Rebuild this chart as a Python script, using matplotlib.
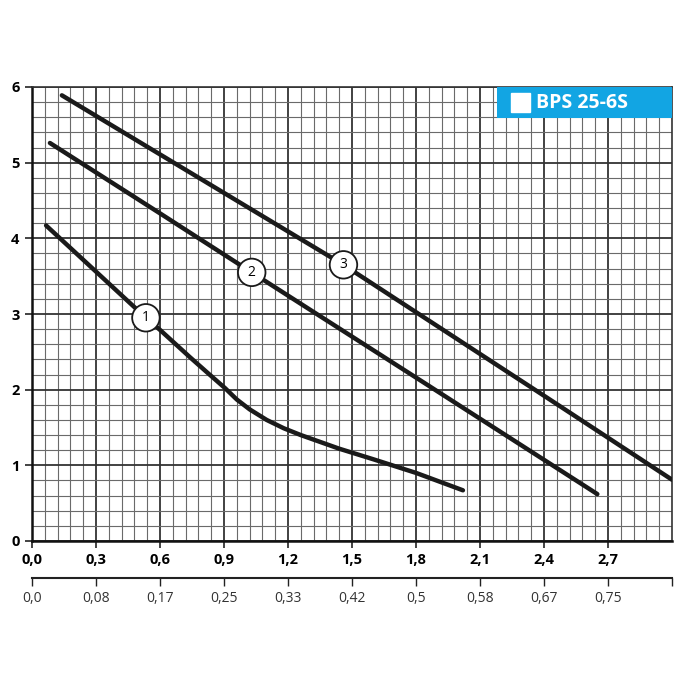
import numpy as np
import matplotlib.pyplot as plt
from matplotlib.ticker import MultipleLocator

plt.rcParams['font.family'] = ['Open Sans', 'DejaVu Sans']

# Pump curves: flow Q (m3/h) vs head H (m)
q1 = [0.066, 0.3, 0.534, 0.6, 0.74, 0.82, 0.905, 0.96, 1.02, 1.10, 1.18, 1.26,
      1.34, 1.44, 1.6, 1.8, 2.02]
h1 = [4.17, 3.56, 2.95, 2.79, 2.43, 2.23, 2.02, 1.87, 1.74, 1.60, 1.49, 1.40,
      1.32, 1.22, 1.08, 0.90, 0.67]
q2 = [0.084, 0.6, 1.03, 1.8, 2.65]
h2 = [5.26, 4.33, 3.55, 2.16, 0.62]
q3 = [0.14, 0.9, 1.46, 2.4, 3.0]
h3 = [5.89, 4.60, 3.65, 1.92, 0.81]

# label circle positions
labels = ['1', '2', '3']
label_q = [0.534, 1.03, 1.46]
label_h = [2.95, 3.55, 3.65]

xticks = [0.0, 0.3, 0.6, 0.9, 1.2, 1.5, 1.8, 2.1, 2.4, 2.7]
xtick_labels = ['0,0', '0,3', '0,6', '0,9', '1,2', '1,5', '1,8', '2,1', '2,4', '2,7']
sec_ticks = [0.0, 0.3, 0.6, 0.9, 1.2, 1.5, 1.8, 2.1, 2.4, 2.7, 3.0]
sec_labels = ['0,0', '0,08', '0,17', '0,25', '0,33', '0,42', '0,5', '0,58', '0,67', '0,75', '']
yticks = [0, 1, 2, 3, 4, 5, 6]

fig = plt.figure(figsize=(7, 7), dpi=100)
ax = fig.add_axes([32/700, 159/700, 640/700, 454/700])
ax.set_xlim(0, 3.0)
ax.set_ylim(0, 6)

# grid
ax.xaxis.set_minor_locator(MultipleLocator(0.06))
ax.yaxis.set_minor_locator(MultipleLocator(0.2))
ax.grid(which='minor', color='#6a6a6a', lw=0.8)
ax.grid(which='major', color='#333333', lw=1.3)
ax.set_axisbelow(True)
ax.tick_params(which='minor', length=0)

ax.set_xticks(xticks)
ax.set_xticklabels(xtick_labels, fontweight='bold', fontsize=10.5)
ax.set_yticks(yticks)
ax.set_yticklabels([str(v) for v in yticks], fontweight='bold', fontsize=10.5)
ax.tick_params(which='major', length=5, width=1.2, color='#222222', pad=4)

for s in ax.spines.values():
    s.set_color('#333333')
    s.set_linewidth(1.2)
ax.spines['left'].set_color('#111111')
ax.spines['left'].set_linewidth(1.8)
ax.spines['bottom'].set_color('#111111')
ax.spines['bottom'].set_linewidth(1.8)

# curves
for q, h in [(q1, h1), (q2, h2), (q3, h3)]:
    ax.plot(q, h, color='#1a1a1a', lw=3.2, solid_capstyle='round',
            solid_joinstyle='round', zorder=3)

for lab, q, h in zip(labels, label_q, label_h):
    ax.text(q, h, lab, ha='center', va='center', fontsize=10, zorder=5,
            bbox=dict(boxstyle='circle,pad=0.45', fc='white', ec='#1a1a1a', lw=1.3))

# secondary flow axis (l/s)
sec = ax.secondary_xaxis(-0.0815)
sec.set_xticks(sec_ticks)
sec.set_xticklabels(sec_labels, fontsize=10, color='#333333')
sec.tick_params(length=6, width=1.0, color='#222222', pad=3)
sec.spines['bottom'].set_linewidth(1.5)
sec.spines['bottom'].set_color('#222222')

# model badge
badge = fig.add_axes([497/700, (700-118)/700, 175/700, 31/700])
badge.set_facecolor('#12a5e3')
badge.set_xticks([])
badge.set_yticks([])
for s in badge.spines.values():
    s.set_visible(False)
badge.add_patch(plt.Rectangle((0.08, 0.18), 0.11, 0.64, transform=badge.transAxes,
                              color='white'))
badge.text(0.22, 0.47, 'BPS 25-6S', color='white', fontsize=14, fontweight='bold',
           ha='left', va='center', transform=badge.transAxes)

fig.savefig('out.png', dpi=100)
